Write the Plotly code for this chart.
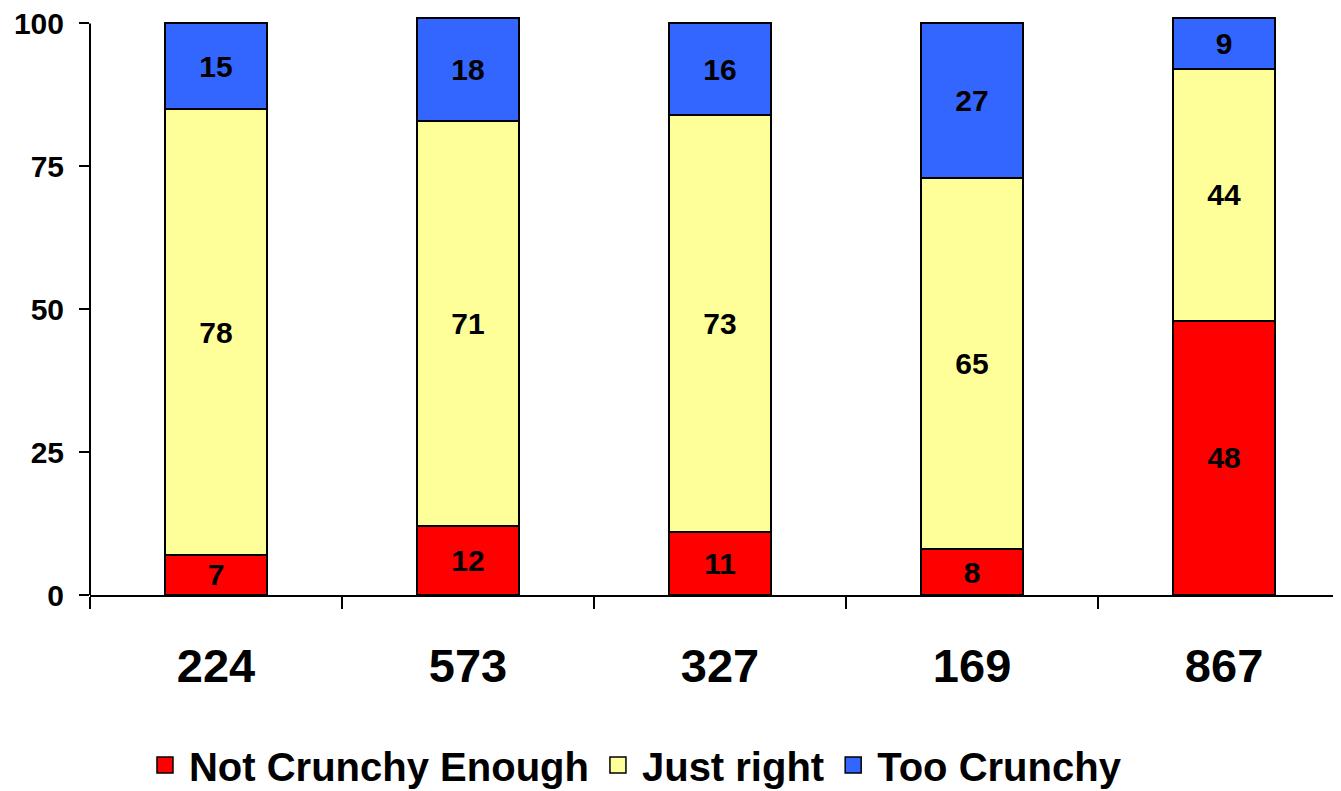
import plotly.graph_objects as go

categories = ["224", "573", "327", "169", "867"]
not_crunchy = [7, 12, 11, 8, 48]
just_right = [78, 71, 73, 65, 44]
too_crunchy = [15, 18, 16, 27, 9]
series_names = ["Not Crunchy Enough", "Just right", "Too Crunchy"]
series_colors = ["#FF0000", "#FFFF99", "#3366FF"]
y_ticks = [0, 25, 50, 75, 100]

FONT = "Arial, 'Liberation Sans', sans-serif"

fig = go.Figure()
for name, vals, col in zip(series_names, [not_crunchy, just_right, too_crunchy], series_colors):
    fig.add_trace(go.Bar(
        x=categories, y=vals, name=name,
        marker=dict(color=col, line=dict(color="black", width=2)),
        text=[str(v) for v in vals], textposition="inside",
        insidetextanchor="middle", constraintext="none",
        textfont=dict(family=FONT, size=30, color="black", weight="bold"),
        showlegend=False,
    ))
# legend entries with larger square markers
for name, col in zip(series_names, series_colors):
    fig.add_trace(go.Scatter(
        x=[None], y=[None], mode="markers", name=name,
        marker=dict(symbol="square", size=20, color=col, line=dict(color="black", width=1.5)),
        showlegend=True,
    ))

fig.add_shape(type="line", xref="x domain", x0=0, x1=0, yref="y", y0=0, y1=100,
              line=dict(color="black", width=2))

# page body has an 8px default margin -> figure is 8px smaller and margins shifted
fig.update_layout(
    barmode="stack",
    bargap=0.595,
    width=1333, height=783,
    margin=dict(l=82, r=0, t=4, b=196, autoexpand=False),
    plot_bgcolor="white", paper_bgcolor="white",
    uniformtext=dict(minsize=30, mode="show"),
    font=dict(family=FONT, color="black"),
    xaxis=dict(
        type="category", range=[-0.5, 4.464], automargin=False,
        showline=True, linecolor="black", linewidth=2,
        ticks="outside", tickson="boundaries", ticklen=12, tickwidth=2, tickcolor="black",
        tickfont=dict(family=FONT, size=47, color="black", weight="bold"),
        ticklabelstandoff=29, ticklabeloverflow="allow",
        showgrid=False, zeroline=False,
    ),
    yaxis=dict(
        range=[0, 102], tickvals=y_ticks, ticktext=[str(t) for t in y_ticks],
        automargin=False,
        showline=False, ticks="outside", ticklen=10, tickwidth=2, tickcolor="black",
        tickfont=dict(family=FONT, size=30, color="black", weight="bold"),
        ticklabelstandoff=9, ticklabeloverflow="allow",
        showgrid=False, zeroline=False,
    ),
    legend=dict(
        orientation="h", traceorder="normal",
        xref="container", x=0.4696, xanchor="center",
        yref="paper", y=-(765 - 595) / 583, yanchor="middle",
        font=dict(family=FONT, size=40, color="black", weight="bold"),
        itemwidth=38, tracegroupgap=0,
    ),
)

fig.write_html("out.html")
